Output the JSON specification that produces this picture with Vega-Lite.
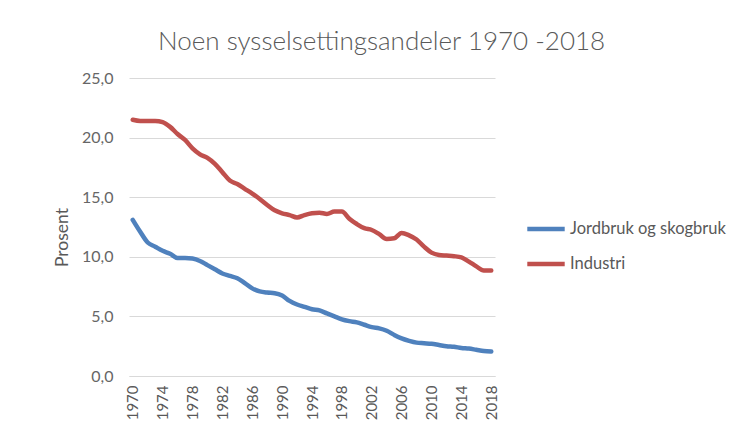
{
  "$schema": "https://vega.github.io/schema/vega-lite/v6.json",
  "autosize": {"type": "none"},
  "width": 366,
  "height": 298,
  "padding": {"left": 129, "top": 78, "right": 261, "bottom": 60},
  "background": "white",
  "title": {
    "text": "Noen sysselsettingsandeler 1970 -2018",
    "font": "Lato",
    "fontSize": 26,
    "fontWeight": 300,
    "color": "#595959",
    "anchor": "start",
    "dx": 105,
    "offset": 15
  },
  "data": {
    "values": [
      {"year": 1970, "serie": "Jordbruk og skogbruk", "value": 13.1},
      {"year": 1971, "serie": "Jordbruk og skogbruk", "value": 12.1},
      {"year": 1972, "serie": "Jordbruk og skogbruk", "value": 11.2},
      {"year": 1973, "serie": "Jordbruk og skogbruk", "value": 10.85},
      {"year": 1974, "serie": "Jordbruk og skogbruk", "value": 10.5},
      {"year": 1975, "serie": "Jordbruk og skogbruk", "value": 10.25},
      {"year": 1976, "serie": "Jordbruk og skogbruk", "value": 9.9},
      {"year": 1977, "serie": "Jordbruk og skogbruk", "value": 9.9},
      {"year": 1978, "serie": "Jordbruk og skogbruk", "value": 9.85},
      {"year": 1979, "serie": "Jordbruk og skogbruk", "value": 9.65},
      {"year": 1980, "serie": "Jordbruk og skogbruk", "value": 9.3},
      {"year": 1981, "serie": "Jordbruk og skogbruk", "value": 8.95},
      {"year": 1982, "serie": "Jordbruk og skogbruk", "value": 8.6},
      {"year": 1983, "serie": "Jordbruk og skogbruk", "value": 8.4},
      {"year": 1984, "serie": "Jordbruk og skogbruk", "value": 8.2},
      {"year": 1985, "serie": "Jordbruk og skogbruk", "value": 7.8},
      {"year": 1986, "serie": "Jordbruk og skogbruk", "value": 7.35},
      {"year": 1987, "serie": "Jordbruk og skogbruk", "value": 7.1},
      {"year": 1988, "serie": "Jordbruk og skogbruk", "value": 7.0},
      {"year": 1989, "serie": "Jordbruk og skogbruk", "value": 6.95},
      {"year": 1990, "serie": "Jordbruk og skogbruk", "value": 6.75},
      {"year": 1991, "serie": "Jordbruk og skogbruk", "value": 6.3},
      {"year": 1992, "serie": "Jordbruk og skogbruk", "value": 6.0},
      {"year": 1993, "serie": "Jordbruk og skogbruk", "value": 5.8},
      {"year": 1994, "serie": "Jordbruk og skogbruk", "value": 5.6},
      {"year": 1995, "serie": "Jordbruk og skogbruk", "value": 5.5},
      {"year": 1996, "serie": "Jordbruk og skogbruk", "value": 5.25},
      {"year": 1997, "serie": "Jordbruk og skogbruk", "value": 5.0},
      {"year": 1998, "serie": "Jordbruk og skogbruk", "value": 4.75},
      {"year": 1999, "serie": "Jordbruk og skogbruk", "value": 4.6},
      {"year": 2000, "serie": "Jordbruk og skogbruk", "value": 4.5},
      {"year": 2001, "serie": "Jordbruk og skogbruk", "value": 4.3},
      {"year": 2002, "serie": "Jordbruk og skogbruk", "value": 4.1},
      {"year": 2003, "serie": "Jordbruk og skogbruk", "value": 4.0},
      {"year": 2004, "serie": "Jordbruk og skogbruk", "value": 3.8},
      {"year": 2005, "serie": "Jordbruk og skogbruk", "value": 3.45},
      {"year": 2006, "serie": "Jordbruk og skogbruk", "value": 3.15},
      {"year": 2007, "serie": "Jordbruk og skogbruk", "value": 2.95},
      {"year": 2008, "serie": "Jordbruk og skogbruk", "value": 2.8},
      {"year": 2009, "serie": "Jordbruk og skogbruk", "value": 2.75},
      {"year": 2010, "serie": "Jordbruk og skogbruk", "value": 2.7},
      {"year": 2011, "serie": "Jordbruk og skogbruk", "value": 2.6},
      {"year": 2012, "serie": "Jordbruk og skogbruk", "value": 2.5},
      {"year": 2013, "serie": "Jordbruk og skogbruk", "value": 2.45},
      {"year": 2014, "serie": "Jordbruk og skogbruk", "value": 2.35},
      {"year": 2015, "serie": "Jordbruk og skogbruk", "value": 2.3},
      {"year": 2016, "serie": "Jordbruk og skogbruk", "value": 2.2},
      {"year": 2017, "serie": "Jordbruk og skogbruk", "value": 2.1},
      {"year": 2018, "serie": "Jordbruk og skogbruk", "value": 2.05},
      {"year": 1970, "serie": "Industri", "value": 21.5},
      {"year": 1971, "serie": "Industri", "value": 21.4},
      {"year": 1972, "serie": "Industri", "value": 21.4},
      {"year": 1973, "serie": "Industri", "value": 21.4},
      {"year": 1974, "serie": "Industri", "value": 21.3},
      {"year": 1975, "serie": "Industri", "value": 20.9},
      {"year": 1976, "serie": "Industri", "value": 20.3},
      {"year": 1977, "serie": "Industri", "value": 19.8},
      {"year": 1978, "serie": "Industri", "value": 19.1},
      {"year": 1979, "serie": "Industri", "value": 18.6},
      {"year": 1980, "serie": "Industri", "value": 18.3},
      {"year": 1981, "serie": "Industri", "value": 17.8},
      {"year": 1982, "serie": "Industri", "value": 17.1},
      {"year": 1983, "serie": "Industri", "value": 16.4},
      {"year": 1984, "serie": "Industri", "value": 16.1},
      {"year": 1985, "serie": "Industri", "value": 15.7},
      {"year": 1986, "serie": "Industri", "value": 15.3},
      {"year": 1987, "serie": "Industri", "value": 14.85},
      {"year": 1988, "serie": "Industri", "value": 14.35},
      {"year": 1989, "serie": "Industri", "value": 13.9},
      {"year": 1990, "serie": "Industri", "value": 13.65},
      {"year": 1991, "serie": "Industri", "value": 13.5},
      {"year": 1992, "serie": "Industri", "value": 13.3},
      {"year": 1993, "serie": "Industri", "value": 13.5},
      {"year": 1994, "serie": "Industri", "value": 13.65},
      {"year": 1995, "serie": "Industri", "value": 13.7},
      {"year": 1996, "serie": "Industri", "value": 13.6},
      {"year": 1997, "serie": "Industri", "value": 13.8},
      {"year": 1998, "serie": "Industri", "value": 13.8},
      {"year": 1999, "serie": "Industri", "value": 13.2},
      {"year": 2000, "serie": "Industri", "value": 12.75},
      {"year": 2001, "serie": "Industri", "value": 12.4},
      {"year": 2002, "serie": "Industri", "value": 12.25},
      {"year": 2003, "serie": "Industri", "value": 11.9},
      {"year": 2004, "serie": "Industri", "value": 11.5},
      {"year": 2005, "serie": "Industri", "value": 11.55},
      {"year": 2006, "serie": "Industri", "value": 12.0},
      {"year": 2007, "serie": "Industri", "value": 11.8},
      {"year": 2008, "serie": "Industri", "value": 11.45},
      {"year": 2009, "serie": "Industri", "value": 10.85},
      {"year": 2010, "serie": "Industri", "value": 10.35},
      {"year": 2011, "serie": "Industri", "value": 10.15},
      {"year": 2012, "serie": "Industri", "value": 10.1},
      {"year": 2013, "serie": "Industri", "value": 10.05},
      {"year": 2014, "serie": "Industri", "value": 9.95},
      {"year": 2015, "serie": "Industri", "value": 9.6},
      {"year": 2016, "serie": "Industri", "value": 9.2},
      {"year": 2017, "serie": "Industri", "value": 8.85},
      {"year": 2018, "serie": "Industri", "value": 8.85}
    ]
  },
  "mark": {"type": "line", "strokeWidth": 4.5, "interpolate": "monotone", "strokeCap": "round"},
  "encoding": {
    "x": {
      "field": "year",
      "type": "ordinal",
      "scale": {"type": "point", "padding": 0.5},
      "axis": {
        "title": null,
        "values": [1970, 1974, 1978, 1982, 1986, 1990, 1994, 1998, 2002, 2006, 2010, 2014, 2018],
        "labelAngle": -90,
        "labelFont": "Lato",
        "labelFontSize": 15,
        "labelColor": "#595959",
        "labelPadding": 9,
        "ticks": false,
        "domainColor": "#d9d9d9",
        "domainWidth": 1.2,
        "grid": false
      }
    },
    "y": {
      "field": "value",
      "type": "quantitative",
      "scale": {"domain": [0, 25], "nice": false},
      "axis": {
        "title": "Prosent",
        "titleFont": "Lato",
        "titleFontSize": 17.5,
        "titleFontWeight": "normal",
        "titleColor": "#595959",
        "titleX": -58,
        "titleY": 159,
        "titleBaseline": "bottom",
        "titleAlign": "center",
        "titleAngle": -90,
        "values": [0, 5, 10, 15, 20, 25],
        "labelExpr": "replace(format(datum.value, '.1f'), '.', ',')",
        "labelFont": "Lato",
        "labelFontSize": 16,
        "labelColor": "#666666",
        "labelPadding": 16,
        "ticks": false,
        "domain": false,
        "gridColor": "#d9d9d9",
        "gridWidth": 1.2
      }
    },
    "color": {
      "field": "serie",
      "type": "nominal",
      "scale": {"domain": ["Jordbruk og skogbruk", "Industri"], "range": ["#4f81bd", "#c0504d"]},
      "legend": {
        "title": null,
        "orient": "none",
        "legendX": 396,
        "legendY": 130,
        "symbolType": "stroke",
        "symbolSize": 1400,
        "symbolStrokeWidth": 4.5,
        "labelFont": "Lato",
        "labelFontSize": 16.5,
        "labelColor": "#595959",
        "labelOffset": 3,
        "rowPadding": 5
      }
    }
  },
  "config": {"view": {"stroke": null}}
}
